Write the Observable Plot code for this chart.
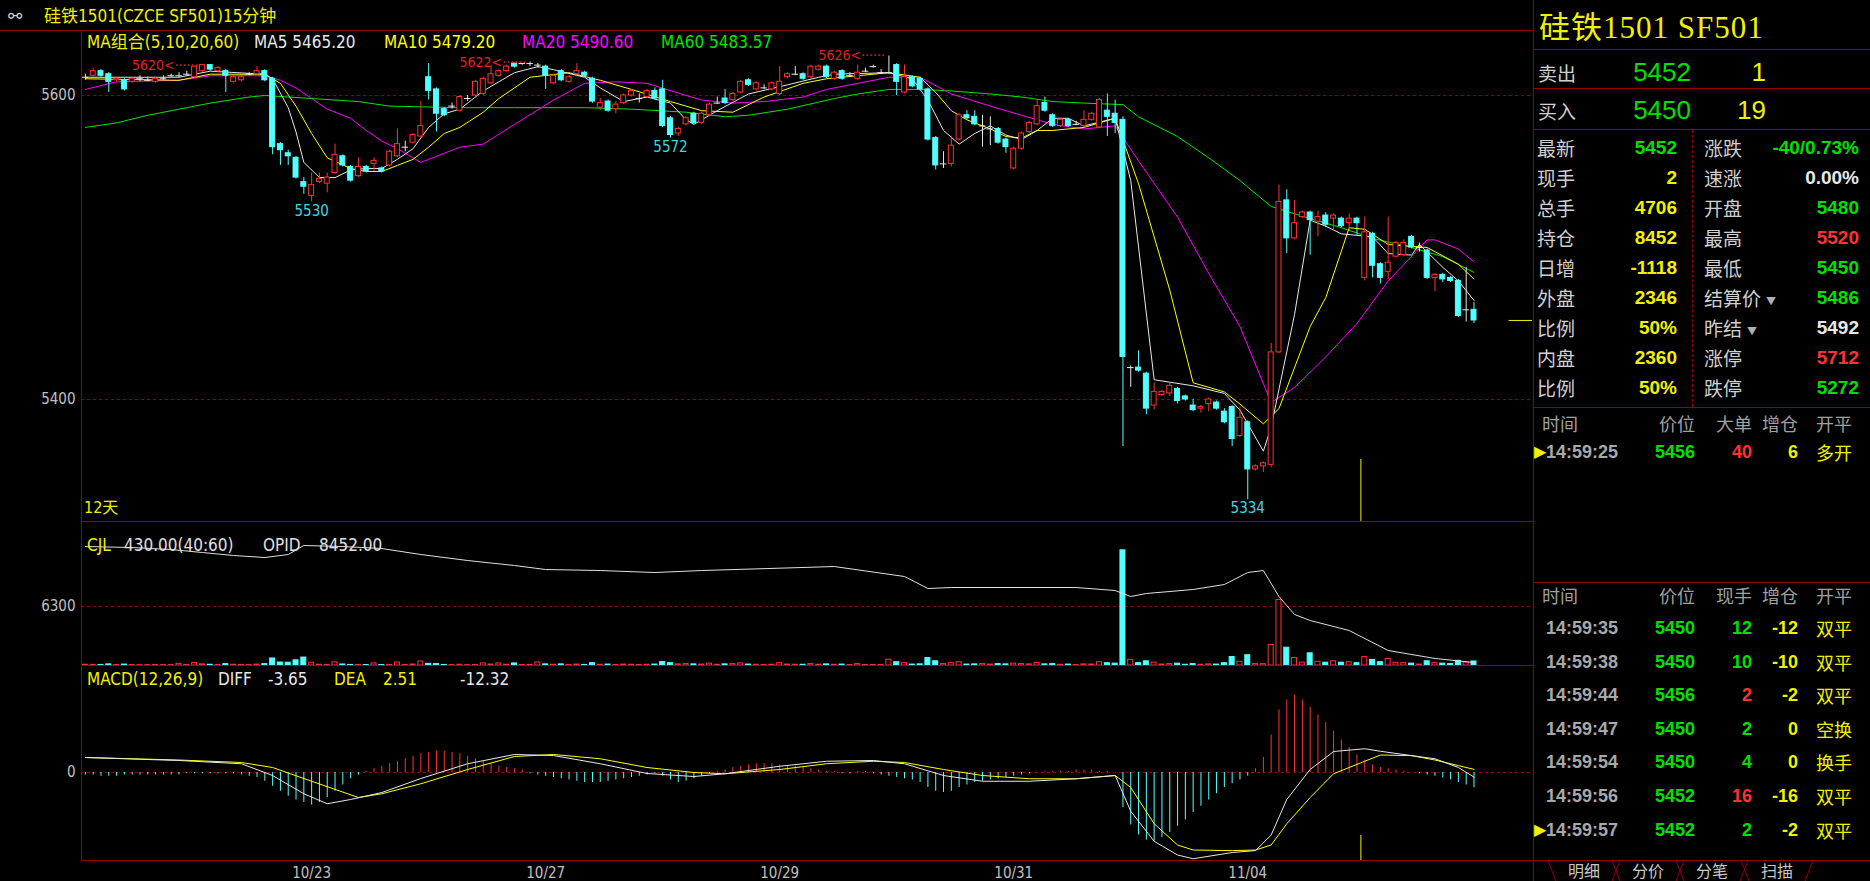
<!DOCTYPE html>
<html><head><meta charset="utf-8">
<script src="https://cdn.jsdelivr.net/npm/d3@7"></script>
<script src="https://cdn.jsdelivr.net/npm/@observablehq/plot@0.6"></script>
<style>
html,body{margin:0;padding:0;background:#000;}
#root{position:relative;width:1870px;height:881px;background:#000;overflow:hidden;}
.t{position:absolute;white-space:nowrap;}
.ln{position:absolute;background:#990000;}
</style></head>
<body><div id="root"></div>
<script>
// ---------------- DATA ----------------
const titleText = "硅铁1501(CZCE SF501)15分钟";
const contractName = "硅铁1501", contractCode = "SF501";
const dayCount = "12天";
const dateLabels = ["10/23","10/27","10/29","10/31","11/04"];
const dateStartBars = [29, 59, 89, 119, 149];
const todayStartBar = 164;

const opens = [5612,5613,5616,5614,5610,5610,5609,5611,5610,5609,
 5611,5613,5613,5614,5612,5616,5620,5616,5616,5609,
 5610,5614,5614,5616,5611,5568,5562,5559,5543,5534,
 5543,5542,5549,5560,5553,5547,5553,5555,5552,5554,
 5560,5566,5569,5573,5612,5604,5591,5593,5590,5598,
 5600,5601,5608,5613,5616,5621,5621,5621,5620,5619,
 5608,5616,5609,5614,5615,5611,5592,5596,5591,5595,
 5600,5598,5599,5603,5604,5585,5575,5581,5588,5582,
 5587,5595,5598,5597,5602,5610,5604,5605,5604,5601,
 5612,5614,5614,5612,5617,5619,5611,5616,5613,5611,
 5616,5619,5615,5615,5620,5602,5612,5611,5604,5572,
 5555,5555,5571,5587,5586,5580,5578,5578,5571,5552,
 5565,5576,5581,5595,5587,5580,5584,5581,5580,5584,
 5579,5590,5588,5584,5421,5421,5417,5396,5403,5404,
 5407,5402,5396,5394,5397,5398,5392,5395,5376,5385,
 5354,5356,5357,5431,5531,5506,5520,5523,5517,5521,
 5519,5519,5516,5519,5480,5509,5489,5484,5494,5495,
 5507,5500,5498,5480,5482,5480,5478,5459,5459];
const highs = [5614,5618,5617,5615,5612,5611,5612,5613,5612,5612,
 5613,5614,5615,5616,5619,5620,5620,5619,5617,5613,
 5613,5615,5619,5617,5612,5569,5564,5560,5546,5549,
 5549,5549,5568,5561,5554,5559,5554,5559,5553,5564,
 5578,5570,5575,5596,5621,5605,5592,5595,5600,5600,
 5610,5612,5620,5617,5620,5621,5621,5622,5621,5620,
 5614,5617,5613,5621,5616,5612,5598,5597,5596,5601,
 5604,5601,5604,5605,5610,5586,5579,5586,5589,5589,
 5595,5599,5604,5602,5610,5611,5609,5607,5609,5619,
 5615,5619,5615,5620,5620,5620,5616,5617,5615,5620,
 5618,5620,5617,5626,5621,5620,5613,5612,5605,5573,
 5563,5573,5588,5590,5590,5587,5586,5579,5572,5566,
 5576,5583,5597,5599,5588,5585,5585,5583,5590,5589,
 5598,5601,5597,5586,5422,5432,5418,5411,5406,5411,
 5408,5403,5400,5396,5401,5399,5394,5396,5395,5386,
 5357,5359,5437,5541,5538,5531,5524,5524,5524,5523,
 5522,5520,5522,5520,5520,5510,5490,5520,5504,5505,
 5508,5503,5499,5483,5483,5481,5479,5487,5464];
const lows = [5610,5612,5612,5602,5609,5603,5608,5609,5609,5608,
 5610,5612,5612,5613,5611,5615,5616,5615,5602,5608,
 5609,5613,5613,5609,5561,5554,5554,5545,5535,5530,
 5542,5536,5548,5553,5543,5546,5549,5550,5549,5553,
 5559,5563,5568,5572,5597,5576,5586,5591,5589,5596,
 5599,5600,5607,5612,5615,5618,5620,5619,5618,5604,
 5607,5609,5608,5613,5612,5595,5590,5589,5588,5594,
 5599,5595,5598,5597,5579,5572,5573,5580,5581,5581,
 5586,5594,5594,5596,5601,5606,5603,5604,5603,5600,
 5611,5613,5610,5611,5616,5611,5610,5610,5612,5610,
 5615,5618,5614,5614,5600,5601,5605,5603,5570,5551,
 5552,5553,5570,5584,5580,5566,5567,5568,5562,5551,
 5564,5575,5580,5589,5579,5579,5579,5580,5579,5583,
 5578,5573,5575,5369,5408,5418,5390,5393,5402,5402,
 5397,5399,5392,5391,5392,5393,5384,5369,5375,5334,
 5353,5352,5355,5430,5496,5505,5519,5495,5507,5513,
 5511,5513,5511,5508,5478,5480,5476,5479,5493,5494,
 5499,5497,5479,5471,5477,5477,5454,5451,5450];
const closes = [5612,5616,5613,5609,5611,5604,5611,5611,5610,5611,
 5611,5613,5613,5614,5619,5620,5617,5618,5613,5612,
 5612,5614,5616,5610,5566,5564,5560,5546,5540,5541,
 5545,5546,5561,5554,5544,5553,5550,5557,5550,5563,
 5568,5566,5574,5580,5603,5588,5587,5593,5599,5598,
 5609,5611,5614,5616,5619,5619,5621,5621,5620,5613,
 5613,5610,5612,5616,5613,5596,5595,5590,5594,5600,
 5603,5598,5603,5598,5580,5574,5578,5585,5582,5588,
 5594,5595,5595,5601,5609,5607,5608,5605,5608,5609,
 5614,5614,5611,5619,5619,5612,5615,5611,5613,5615,
 5616,5619,5615,5615,5609,5612,5606,5604,5571,5554,
 5555,5567,5587,5585,5581,5580,5578,5569,5566,5565,
 5575,5582,5593,5590,5580,5584,5580,5581,5584,5588,
 5597,5586,5582,5428,5421,5419,5394,5405,5405,5409,
 5399,5400,5393,5395,5400,5394,5385,5374,5388,5354,
 5356,5358,5431,5530,5506,5516,5523,5518,5520,5515,
 5521,5514,5519,5516,5510,5488,5480,5490,5503,5503,
 5500,5500,5480,5482,5479,5478,5455,5459,5452];

const highMarkBars = [15, 57, 103];
const lowMarkBars = [29, 75, 149];

const maPeriods = [5, 10, 20, 60];
const maLast = [5465.20, 5479.20, 5490.60, 5483.57];
const ma5 = [[0,5612],[12,5612],[16,5616],[23,5614],[24,5611],[26,5592],[27,5576],[28,5556],[30,5546],[32,5546],[34,5551],[36,5552],[38,5552],[40,5558],[42,5565],[44,5579],[46,5588],[48,5591],[51,5603],[55,5615],[58,5619],[60,5617],[64,5612],[66,5605],[69,5596],[72,5599],[75,5595],[77,5584],[78,5581],[81,5590],[85,5601],[90,5607],[94,5612],[96,5614],[103,5615],[106,5611],[108,5597],[110,5577],[112,5568],[114,5575],[116,5580],[118,5574],[120,5571],[122,5577],[124,5585],[126,5585],[128,5580],[132,5585],[134,5544],[137,5413],[142,5409],[146,5404],[148,5393],[151,5366],[152,5382],[155,5456],[157,5518],[159,5514],[161,5509],[165,5507],[167,5496],[170,5495],[171,5502],[174,5487],[176,5478],[178,5465.2]];
const ma10 = [[0,5611],[12,5610],[16,5614],[23,5614],[25,5608],[27,5593],[29,5575],[31,5559],[34,5552],[36,5550],[38,5550],[40,5554],[42,5558],[44,5566],[46,5575],[48,5579],[51,5589],[53,5598],[57,5612],[62,5615],[66,5610],[70,5604],[75,5596],[79,5590],[83,5589],[87,5599],[92,5608],[95,5611],[103,5615],[107,5612],[109,5602],[111,5590],[113,5584],[116,5578],[118,5573],[120,5572],[122,5577],[124,5577],[128,5579],[132,5585],[135,5542],[139,5472],[142,5411],[146,5405],[148,5397],[151,5384],[153,5394],[157,5448],[159,5467],[162,5513],[164,5512],[167,5502],[172,5500],[176,5489],[178,5479.2]];
const ma20 = [[0,5604],[4,5609],[12,5610],[16,5613],[23,5613],[25,5610],[27,5605],[29,5598],[31,5591],[34,5585],[36,5577],[38,5570],[40,5565],[43,5556],[44,5558],[46,5562],[48,5566],[51,5568],[55,5581],[60,5597],[64,5608],[68,5609],[72,5608],[77,5600],[79,5597],[83,5595],[87,5596],[92,5599],[95,5604],[98,5607],[103,5612],[107,5612],[111,5601],[116,5593],[120,5587],[124,5581],[128,5578],[132,5580],[135,5557],[140,5520],[144,5483],[148,5448],[152,5398],[155,5408],[159,5428],[163,5450],[167,5478],[172,5505],[173,5505],[176,5499],[178,5490.6]];
const ma60 = [[0,5579],[4,5582],[8,5587],[12,5591],[16,5595],[21,5599],[23,5600],[29,5598],[35,5596],[39,5593],[48,5592],[55,5592],[64,5592],[70,5591],[77,5589],[82,5586],[85,5587],[90,5591],[96,5598],[99,5601],[103,5604],[107,5604],[111,5603],[116,5601],[120,5599],[124,5596],[128,5595],[133,5594],[135,5586],[140,5573],[144,5559],[148,5544],[152,5527],[157,5519],[161,5513],[165,5506],[170,5500],[174,5494],[178,5483.6]];

const volumes = [80,60,60,120,50,100,50,40,40,60,
 40,40,180,60,260,120,80,60,150,80,
 60,40,90,150,750,320,300,550,850,300,
 80,60,330,110,60,60,50,220,50,60,
 320,60,100,430,180,150,60,40,80,40,
 60,220,100,220,80,220,60,60,320,120,
 80,120,60,100,60,250,80,100,60,100,
 80,50,80,100,380,250,120,150,120,100,
 200,80,120,150,220,100,80,50,80,250,
 100,80,80,150,80,120,80,100,50,150,
 60,60,60,620,350,250,100,120,800,450,
 150,250,350,100,120,150,100,150,120,200,
 150,120,280,120,150,80,100,50,120,100,
 350,250,200,12300,600,250,450,300,100,150,
 200,80,150,80,120,100,250,900,400,1100,
 150,150,2200,7000,1900,800,300,1300,400,300,
 450,300,350,250,900,600,350,700,300,250,
 200,100,450,250,200,150,500,300,430];
const opid = [[0,15934],[6,15870],[11,15741],[15,15547],[19,15354],[23,15225],[26,15418],[28,16000],[33,15934],[38,15805],[43,15418],[49,15031],[55,14709],[59,14450],[66,14386],[73,14257],[79,14386],[96,14644],[105,14000],[108,13225],[111,13290],[127,13290],[132,13096],[134,12709],[136,12903],[142,13161],[146,13483],[149,14257],[151,14386],[153,12709],[155,11548],[157,11161],[162,10516],[167,9226],[173,8710],[178,8452]];
const cjlLegend = {cjl: "430.00(40:60)", opid: "8452.00"};

const macdHist = [-2,-2,-3,-3,-3,-2,-2,-2,-2,-2,
 -2,-2,-2,-1,-1,-1,-1,-1,-1,-1,
 -2,-3,-4,-7,-11,-15,-19,-22,-24,-26,
 -24,-20,-15,-10,-5,-2,1,3,5,7,
 9,11,13,15,16,17,17,16,15,13,
 11,9,7,5,4,3,2,-1,-2,-3,
 -4,-5,-6,-7,-8,-8,-8,-7,-6,-5,
 -4,-3,-2,-1,-3,-6,-8,-7,-5,-3,
 -1,1,2,4,5,6,7,7,7,6,
 5,5,4,3,2,1,1,-1,-1,1,
 1,-1,-2,-3,-4,-5,-6,-8,-12,-15,
 -16,-15,-12,-10,-8,-7,-6,-5,-4,-3,
 -2,-1,0,1,1,1,1,2,2,2,
 1,1,0,-28,-42,-50,-54,-55,-52,-48,
 -43,-38,-32,-27,-22,-17,-12,-9,-6,-3,
 3,12,30,50,58,62,58,52,46,40,
 33,26,20,14,10,6,4,3,2,1,
 0,-1,-2,-3,-4.5,-6,-8,-10,-12.32];
const diff = [[0,12],[12,9.6],[20,7],[24,-2.4],[28,-17],[31,-25],[34,-21.6],[38,-16],[43,-4.8],[49,7],[55,14.4],[60,13.6],[66,7],[72,-0.8],[78,-3.2],[82,-1],[89,5],[95,9],[101,9.6],[105,7],[110,-2.4],[115,-7],[121,-7],[127,-5],[132,-2.4],[134,-31],[137,-55],[140,-66],[142,-69],[147,-64],[150,-62.5],[152,-50],[154,-21.6],[157,2.4],[160,16.8],[164,19],[166,17],[170,13.5],[173,11],[176,4],[178,-3.65]];
const dea = [[0,12],[12,10],[20,8],[24,4],[29,-7],[35,-20],[38,-17],[43,-9],[49,2.4],[55,12.8],[60,14.4],[66,11],[72,4],[78,0],[82,-1],[89,2.4],[95,7],[101,9],[105,8],[110,2.4],[115,-2.4],[121,-5],[127,-5],[132,-2.4],[134,-12],[137,-41],[140,-58],[142,-62],[147,-62.5],[150,-62],[152,-58],[154,-41],[157,-20],[160,-1],[164,9],[166,14],[170,13.5],[173,10],[176,5.5],[178,2.51]];
const macdLegend = {diff: "-3.65", dea: "2.51", macd: "-12.32"};

const priceTicks = [5600, 5400];
const volTicks = [6300];
const macdTicks = [0];

const prevSettle = 5492;
const quoteRows = [["卖出", "5452", "1"], ["买入", "5450", "19"]];
const statLabelsL = ["最新","现手","总手","持仓","日增","外盘","比例","内盘","比例"];
const statValsL = ["5452","2","4706","8452","-1118","2346","50%","2360","50%"];
const statLabelsR = ["涨跌","速涨","开盘","最高","最低","结算价","昨结","涨停","跌停"];
const statValsR = ["-40/0.73%","0.00%","5480","5520","5450","5486","5492","5712","5272"];
const bigHeader = ["时间","价位","大单","增仓","开平"];
const bigTrades = [["14:59:25", 5456, 40, 6, "多开", "B"]];
const tradeHeader = ["时间","价位","现手","增仓","开平"];
const tradeTimes = ["14:59:35","14:59:38","14:59:44","14:59:47","14:59:54","14:59:56","14:59:57"];
const tradePrices = [5450,5450,5456,5450,5450,5452,5452];
const tradeQty = [12,10,2,2,4,16,2];
const tradeOI = [-12,-10,-2,0,0,-16,-2];
const tradeType = ["双平","双平","双平","空换","换手","双平","双平"];
const tradeSide = ["S","S","B","S","S","B","S"];
const tabs = ["明细","分价","分笔","扫描"];

// ---------------- STYLE ----------------
const RED_LINE = "#990000";
const UP = "#ff3232", DOWN = "#54ffff", DOJI = "#e8e8e8";
const YEL = "#f0f000", GRN = "#00e000", TXT = "#c0c0c0";
const NARROW = '"Liberation Sans Narrow","DejaVu Sans Condensed","Noto Sans CJK SC",sans-serif';
const SANS = '"Liberation Sans","Noto Sans CJK SC",sans-serif';
const CJK = '"Noto Sans CJK SC",sans-serif';
const SERIF = '"Liberation Serif","DejaVu Serif","Noto Sans CJK SC",serif';

const root = document.getElementById("root");
function T(s, x, y, o = {}) {
  const size = o.size || 15;
  const d = document.createElement("div");
  d.className = "t";
  d.textContent = s;
  d.style.fontSize = size + "px";
  d.style.lineHeight = size + "px";
  d.style.top = (y - size / 2) + "px";
  d.style.color = o.color || TXT;
  d.style.fontFamily = o.font || NARROW;
  if (o.weight) d.style.fontWeight = o.weight;
  if (o.ls) d.style.letterSpacing = o.ls;
  if (o.anchor === "end") d.style.right = (1870 - x) + "px";
  else if (o.anchor === "middle") { d.style.left = x + "px"; d.style.transform = "translateX(-50%)"; }
  else d.style.left = x + "px";
  root.appendChild(d);
  return d;
}
function L(x, y, w, h, dashed) {
  const d = document.createElement("div");
  d.className = "ln";
  Object.assign(d.style, {left: x + "px", top: y + "px", width: w + "px", height: h + "px"});
  if (dashed) { d.style.background = "none"; d.style.borderLeft = "1px dashed " + RED_LINE; d.style.width = "0"; }
  root.appendChild(d);
}
const priceColor = v => v > prevSettle ? UP : v < prevSettle ? GRN : "#e8e8e8";

// ---------------- CANDLES TABLE ----------------
const N = closes.length;
const bars = d3.range(N).map(i => ({i, o: opens[i], h: highs[i], l: lows[i], c: closes[i], v: volumes[i], m: macdHist[i]}));
const ups = bars.filter(d => d.c > d.o), downs = bars.filter(d => d.c < d.o), dojis = bars.filter(d => d.c === d.o);
const XDOM = [-0.5, 185.5];
const PW = 1533, ML = 81, MR = 1;
const HW = 0.32;

const baseStyle = top => ({position: "absolute", left: "0px", top: top + "px", background: "transparent", overflow: "visible", color: TXT, fontFamily: NARROW, fontSize: "15px"});

// ---------------- PRICE PANEL ----------------
const priceSvg = Plot.plot({
  width: PW, height: 491, marginLeft: ML, marginRight: MR, marginTop: 0, marginBottom: 0,
  style: baseStyle(30),
  x: {domain: XDOM, axis: null},
  y: {domain: [5319.74, 5642.76]},
  marks: [
    Plot.ruleY(priceTicks, {stroke: RED_LINE, strokeDasharray: "3,3"}),
    Plot.axisY(priceTicks, {tickSize: 0, tickPadding: 6, tickFormat: d => String(d), fill: TXT, label: null}),
    Plot.ruleX([todayStartBar - 0.5], {stroke: YEL, insetTop: 429}),
    Plot.line(ma60, {x: d => d[0], y: d => d[1], stroke: "#00e600", strokeWidth: 1}),
    Plot.line(ma20, {x: d => d[0], y: d => d[1], stroke: "#ff00ff", strokeWidth: 1}),
    Plot.line(ma10, {x: d => d[0], y: d => d[1], stroke: "#ffff00", strokeWidth: 1}),
    Plot.line(ma5, {x: d => d[0], y: d => d[1], stroke: "#e8e8e8", strokeWidth: 1}),
    Plot.ruleX(ups, {x: "i", y1: "l", y2: "h", stroke: UP}),
    Plot.ruleX(downs, {x: "i", y1: "l", y2: "h", stroke: DOWN}),
    Plot.ruleX(dojis, {x: "i", y1: "l", y2: "h", stroke: DOJI}),
    Plot.rect(ups, {x1: d => d.i - HW, x2: d => d.i + HW, y1: "o", y2: "c", fill: "#000", stroke: UP}),
    Plot.rect(downs, {x1: d => d.i - HW, x2: d => d.i + HW, y1: "o", y2: "c", fill: DOWN, stroke: DOWN}),
    Plot.ruleY(dojis, {y: "c", x1: d => d.i - 0.42, x2: d => d.i + 0.42, stroke: DOJI}),
    Plot.ruleY([closes[N - 1]], {x1: N + 3.5, x2: XDOM[1], stroke: YEL}),
    Plot.text(highMarkBars, {x: i => i - 0.5, y: i => highs[i], text: i => highs[i] + "<······", textAnchor: "end", fill: "#e02020", fontSize: 14}),
    Plot.text(lowMarkBars, {x: i => i, y: i => lows[i], text: i => String(lows[i]), lineAnchor: "top", dy: 3, fill: "#3cd8e0", fontSize: 15})
  ]
});
root.appendChild(priceSvg);

// ---------------- VOLUME PANEL ----------------
const volUp = bars.filter(d => d.c >= d.o), volDown = bars.filter(d => d.c < d.o);
const volSvg = Plot.plot({
  width: PW, height: 144, marginLeft: ML, marginRight: MR, marginTop: 0, marginBottom: 0,
  style: baseStyle(521),
  x: {domain: XDOM, axis: null},
  y: {domain: [0, 15380]},
  marks: [
    Plot.ruleY(volTicks, {stroke: RED_LINE, strokeDasharray: "3,3"}),
    Plot.axisY(volTicks, {tickSize: 0, tickPadding: 6, tickFormat: d => String(d), fill: TXT, label: null}),
    Plot.rect(volUp, {x1: d => d.i - HW, x2: d => d.i + HW, y1: 0, y2: "v", fill: "#000", stroke: UP}),
    Plot.rect(volDown, {x1: d => d.i - HW, x2: d => d.i + HW, y1: 0, y2: "v", fill: DOWN, stroke: DOWN})
  ]
});
root.appendChild(volSvg);
const opidSvg = Plot.plot({
  width: PW, height: 144, marginLeft: ML, marginRight: MR, marginTop: 0, marginBottom: 0,
  style: baseStyle(521),
  x: {domain: XDOM, axis: null},
  y: {domain: [8258, 17549], axis: null},
  marks: [Plot.line(opid, {x: d => d[0], y: d => d[1], stroke: "#e0e0e0", strokeWidth: 1})]
});
root.appendChild(opidSvg);

// ---------------- MACD PANEL ----------------
const labelByBar = new Map(dateStartBars.map((b, k) => [b, dateLabels[k]]));
const macdSvg = Plot.plot({
  width: PW, height: 217, marginLeft: ML, marginRight: MR, marginTop: 0, marginBottom: 22,
  style: baseStyle(665),
  x: {domain: XDOM},
  y: {domain: [-70.4, 85.6]},
  marks: [
    Plot.ruleY(macdTicks, {stroke: RED_LINE, strokeDasharray: "3,3"}),
    Plot.axisY(macdTicks, {tickSize: 0, tickPadding: 6, tickFormat: d => String(d), fill: TXT, label: null}),
    Plot.axisX(dateStartBars, {tickSize: 0, tickPadding: 7, tickFormat: d => labelByBar.get(d), fill: TXT, label: null}),
    Plot.ruleX(bars.filter(d => d.m > 0), {x: "i", y1: 0, y2: "m", stroke: UP}),
    Plot.ruleX(bars.filter(d => d.m < 0), {x: "i", y1: 0, y2: "m", stroke: DOWN}),
    Plot.ruleX([todayStartBar - 0.5], {stroke: YEL, insetTop: 170}),
    Plot.line(dea, {x: d => d[0], y: d => d[1], stroke: "#ffff00", strokeWidth: 1}),
    Plot.line(diff, {x: d => d[0], y: d => d[1], stroke: "#e8e8e8", strokeWidth: 1})
  ]
});
root.appendChild(macdSvg);

// ---------------- FRAME LINES ----------------
L(0, 30, 1533, 1);
L(81, 30, 1, 830);
L(81, 521, 1452, 1);
L(81, 665, 1452, 1);
L(81, 860, 1452, 1);
L(1533, 0, 1, 881);
[49, 88, 129, 407, 582].forEach(y => L(1534, y, 336, 1));
L(1692, 130, 1, 277, true);

// ---------------- CHART LEGENDS ----------------
T("⚯", 8, 16, {color: "#d0d0d0", size: 17, font: '"DejaVu Sans",sans-serif'});
T(titleText, 44, 16, {color: YEL, size: 17});
T(`MA组合(${maPeriods.join(",")})`, 87, 42, {color: YEL, size: 17});
const maColors = ["#e8e8e8", "#ffff00", "#ff00ff", "#00e600"];
const maX = [254, 384, 522, 661];
maPeriods.forEach((p, k) => T(`MA${p} ${maLast[k].toFixed(2)}`, maX[k], 42, {color: maColors[k], size: 17}));
T(dayCount, 84, 508, {color: YEL, size: 16});
T("CJL", 87, 545, {color: YEL, size: 17});
T(cjlLegend.cjl, 124, 545, {color: "#e0e0e0", size: 17});
T("OPID", 263, 545, {color: "#e0e0e0", size: 17});
T(cjlLegend.opid, 319, 545, {color: "#e0e0e0", size: 17});
T("MACD(12,26,9)", 87, 679, {color: YEL, size: 17});
T("DIFF", 218, 679, {color: "#e8e8e8", size: 17});
T(macdLegend.diff, 268, 679, {color: "#e8e8e8", size: 17});
T("DEA", 334, 679, {color: YEL, size: 17});
T(macdLegend.dea, 383, 679, {color: YEL, size: 17});
T(macdLegend.macd, 460, 679, {color: "#e8e8e8", size: 17});

// ---------------- RIGHT PANEL ----------------
T(contractName + "  " + contractCode, 1539, 27, {color: YEL, size: 31, font: SERIF, ls: "1px"});
quoteRows.forEach((r, k) => {
  const y = [72, 110][k];
  T(r[0], 1538, y, {color: "#d0d0d0", size: 19, font: CJK});
  T(r[1], 1691, y, {color: priceColor(+r[1]), size: 26, font: SANS, anchor: "end"});
  T(r[2], 1766, y, {color: YEL, size: 26, font: SANS, anchor: "end"});
});
statLabelsL.forEach((lab, k) => {
  const y = 147 + k * 30.1;
  T(lab, 1537, y, {color: "#d0d0d0", size: 19, font: CJK});
  T(statValsL[k], 1677, y, {color: k === 0 ? priceColor(+statValsL[k]) : YEL, size: 19, font: SANS, weight: "bold", anchor: "end"});
  const rl = T(statLabelsR[k], 1704, y, {color: "#d0d0d0", size: 19, font: CJK});
  if (statLabelsR[k] === "结算价" || statLabelsR[k] === "昨结") {
    const s = document.createElement("span");
    s.textContent = "▼"; s.style.fontSize = "10px"; s.style.marginLeft = "5px"; s.style.color = "#b0b0b0";
    s.style.verticalAlign = "middle";
    rl.appendChild(s);
  }
  const v = statValsR[k];
  let col;
  if (k === 0) col = v.startsWith("-") ? GRN : UP;
  else if (k === 1) col = "#e8e8e8";
  else col = priceColor(+v);
  T(v, 1859, y, {color: col, size: 19, font: SANS, weight: "bold", anchor: "end"});
});
const colRight = [null, 1695, 1752, 1798, 1852];
function header(cols, y) {
  T(cols[0], 1542, y, {color: "#a0a0a0", size: 18, font: CJK});
  for (let c = 1; c < 5; c++) T(cols[c], colRight[c], y, {color: "#a0a0a0", size: 18, font: CJK, anchor: "end"});
}
function tradeRow(t, p, q, oi, type, side, y, marker) {
  if (marker) T("▶", 1534, y, {color: YEL, size: 16, font: '"DejaVu Sans",sans-serif'});
  T(t, 1546, y, {color: "#a8a8a8", size: 18, font: SANS, weight: "bold"});
  T(String(p), colRight[1], y, {color: priceColor(p), size: 18, font: SANS, weight: "bold", anchor: "end"});
  T(String(q), colRight[2], y, {color: side === "B" ? UP : GRN, size: 18, font: SANS, weight: "bold", anchor: "end"});
  T(String(oi), colRight[3], y, {color: YEL, size: 18, font: SANS, weight: "bold", anchor: "end"});
  T(type, colRight[4], y, {color: YEL, size: 18, font: CJK, anchor: "end"});
}
header(bigHeader, 423);
bigTrades.forEach((r, k) => tradeRow(r[0], r[1], r[2], r[3], r[4], r[5], 452 + k * 33.6, true));
header(tradeHeader, 595);
tradeTimes.forEach((t, k) => tradeRow(t, tradePrices[k], tradeQty[k], tradeOI[k], tradeType[k], tradeSide[k], 628 + k * 33.6, k === tradeTimes.length - 1));

// tabs
const tabSvg = d3.select(root).append("svg").attr("width", 336).attr("height", 26)
  .style("position", "absolute").style("left", "1534px").style("top", "855px");
tabSvg.append("line").attr("x1", 0).attr("x2", 336).attr("y1", 5.5).attr("y2", 5.5).attr("stroke", RED_LINE);
const tabCenters = [50, 114, 178, 243];
tabs.forEach((s, k) => {
  const cx = tabCenters[k];
  tabSvg.append("path").attr("d", `M${cx - 36},5.5 L${cx - 28},26 M${cx + 28},26 L${cx + 36},5.5`).attr("stroke", RED_LINE).attr("fill", "none");
  tabSvg.append("text").attr("x", cx).attr("y", 22).attr("text-anchor", "middle").attr("fill", "#c8c8c8")
    .style("font-family", CJK).style("font-size", "16px").text(s);
});
</script></body></html>
